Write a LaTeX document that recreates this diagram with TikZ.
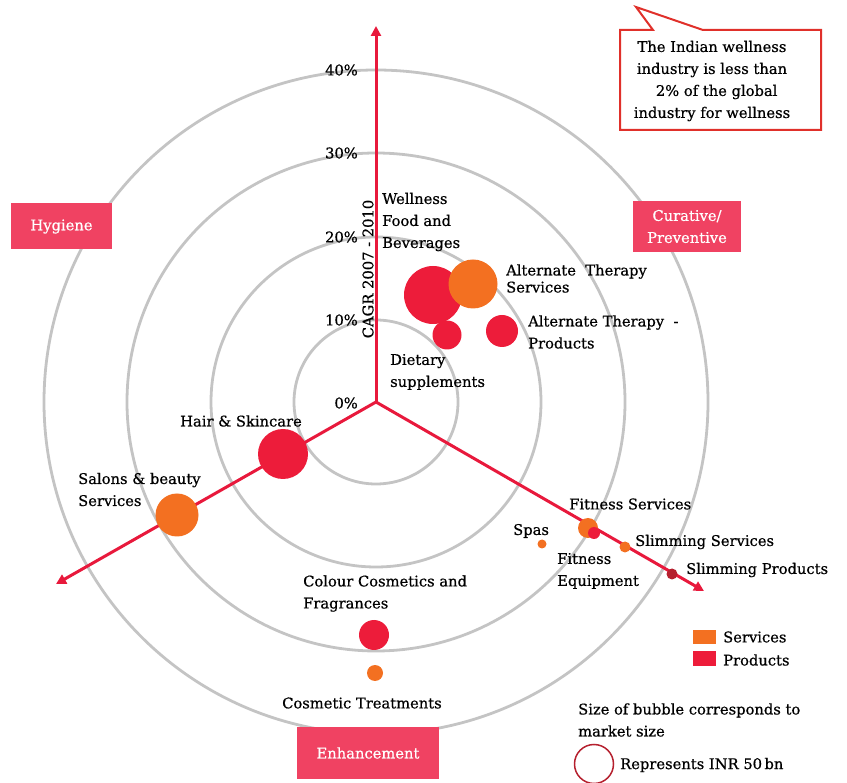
\documentclass[tikz,border=0pt]{standalone}
\usepackage{fontspec}
\setmainfont{DejaVu Serif}[FakeBold=0.6]
\usetikzlibrary{arrows.meta}
\definecolor{axisred}{HTML}{E8193C}
\definecolor{bubred}{HTML}{ED1C3A}
\definecolor{buborange}{HTML}{F37021}
\definecolor{darkbub}{HTML}{B5202E}
\definecolor{boxpink}{HTML}{F04262}
\definecolor{ringgray}{HTML}{C4C4C4}
\definecolor{callred}{HTML}{E0302A}
\tikzset{
  ring/.style={draw=ringgray, line width=2.8pt},
  axisline/.style={draw=axisred, line width=3pt, -{Triangle[length=10pt,width=10pt]}},
  lbl/.style={font=\fontsize{14.7}{22}\selectfont, text=black, inner sep=0pt, align=left},
  pct/.style={font=\fontsize{14.7}{16}\selectfont, inner sep=0pt, anchor=east},
  catbox/.style={fill=boxpink, text=white, font=\fontsize{14.7}{22}\selectfont, inner sep=0pt, align=center},
  bubR/.style={circle, fill=bubred, inner sep=0pt},
  bubO/.style={circle, fill=buborange, inner sep=0pt},
  bubD/.style={circle, fill=darkbub, inner sep=0pt},
}
\begin{document}
\begin{tikzpicture}[x=1pt,y=-1pt]
\useasboundingbox (0,0) rectangle (847,783);
\coordinate (C) at (376,402);
% rings
\foreach \r in {82,165,249,332} \draw[ring] (C) circle (\r);
% category boxes
\node[catbox, minimum width=101pt, minimum height=46pt] (hyg) at (61.5,226.5) {Hygiene};
\node[catbox, minimum width=108pt, minimum height=51pt] (cur) at (687,226.5) {Curative/\\Preventive};
\node[catbox, minimum width=142pt, minimum height=52pt] (enh) at (368,753) {Enhancement};
% axes
\coordinate (top) at (376,26);
\coordinate (br) at (704,591);
\coordinate (bl) at (56,584);
\draw[axisline] (C) -- (top);
\draw[axisline] (C) -- (br);
\draw[axisline] (C) -- (bl);
% percent labels
\node[pct] (p40) at (358,70) {40\%};
\node[pct] (p30) at (358,153) {30\%};
\node[pct] (p20) at (358,237) {20\%};
\node[pct] (p10) at (358,320) {10\%};
\node[pct] (p0) at (358,403) {0\%};
\node[font=\fontsize{14.7}{16}\selectfont, inner sep=0pt, rotate=90] (cagr) at (368,269) {CAGR 2007 - 2010};
% bubbles
\node[bubR, minimum size=58pt] (wfb) at (433,295) {};
\node[bubO, minimum size=49pt] (ats) at (473,284) {};
\node[bubR, minimum size=29pt] (ds) at (447,335) {};
\node[bubR, minimum size=32pt] (atp) at (502,331) {};
\node[bubR, minimum size=50pt] (hs) at (283,454) {};
\node[bubO, minimum size=43pt] (sal) at (177,515) {};
\node[bubR, minimum size=30pt] (ccf) at (374,635) {};
\node[bubO, minimum size=16pt] (ct) at (375,673) {};
\node[bubO, minimum size=20pt] (fs) at (588,528) {};
\node[bubR, minimum size=12pt] (fe) at (594,533) {};
\node[bubO, minimum size=9pt] (spa) at (542,544) {};
\node[bubO, minimum size=11pt] (ss) at (625,547) {};
\node[bubD, minimum size=11pt] (sp) at (672,574) {};
% labels
\node[lbl, anchor=west] (lwfb) at (382,222) {Wellness\\Food and\\Beverages};
\node[lbl, anchor=west, font=\fontsize{14.7}{17}\selectfont] (lats) at (506,278.5) {Alternate\ \ Therapy\\Services};
\node[lbl, anchor=west] (latp) at (528,332) {Alternate Therapy\ \ -\\Products};
\node[lbl, anchor=west] (lds) at (390,372) {Dietary\\supplements};
\node[lbl, anchor=west] (lhs) at (180,421) {Hair \& Skincare};
\node[lbl, anchor=west] (lsal) at (78,489.5) {Salons \& beauty\\Services};
\node[lbl, anchor=west] (lccf) at (303,593.5) {Colour Cosmetics and\\Fragrances};
\node[lbl, anchor=west] (lct) at (282,703) {Cosmetic Treatments};
\node[lbl, anchor=west] (lfs) at (569,504) {Fitness Services};
\node[lbl, anchor=west] (lspa) at (513,531) {Spas};
\node[lbl, anchor=west] (lfe) at (557,571) {Fitness\\Equipment};
\node[lbl, anchor=west] (lss) at (635,542) {Slimming Services};
\node[lbl, anchor=west] (lsp) at (686,570) {Slimming Products};
% callout
\draw[callred, line width=2pt, line join=miter]
  (653,30) -- (636,7) -- (703,30) -- (821,30) -- (821,130) -- (620,130) -- (620,30) -- cycle;
\node[lbl, align=center] (call) at (712,81) {The Indian wellness\\industry is less than\\\ \ 2\% of the global\\industry for wellness};
% legend
\node[fill=buborange, minimum width=23pt, minimum height=14pt, inner sep=0pt] (legO) at (704.5,637) {};
\node[fill=bubred, minimum width=23pt, minimum height=15pt, inner sep=0pt] (legR) at (704.5,658.5) {};
\node[lbl, anchor=west] (lserv) at (723,637) {Services};
\node[lbl, anchor=west] (lprod) at (723,660) {Products};
\node[lbl, anchor=west] (lsize) at (578,720) {Size of bubble corresponds to\\market size};
\node[circle, draw=darkbub, line width=1.5pt, minimum size=39pt, inner sep=0pt] (lcirc) at (594,764) {};
\node[lbl, anchor=west] (lrep) at (620,765) {Represents INR 50\,bn};
\end{tikzpicture}
\end{document}
